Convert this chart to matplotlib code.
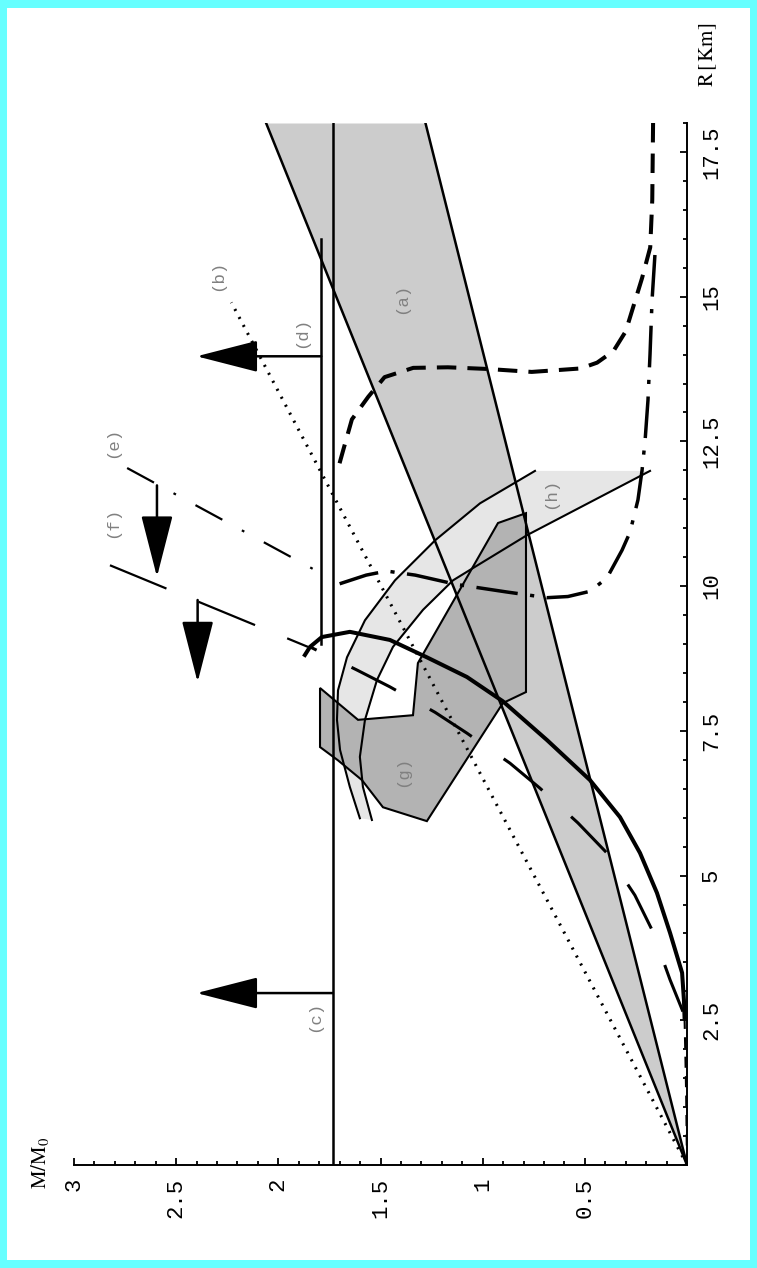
import matplotlib.pyplot as plt
from matplotlib.ticker import FixedLocator, MultipleLocator

plt.rcParams['lines.scale_dashes'] = False
plt.rcParams['mathtext.fontset'] = 'stix'

# mass-radius plane drawn on its side: M grows to the left, R grows upward
m_ticks = [0.5, 1, 1.5, 2, 2.5, 3]
m_tick_labels = ['0.5', '1', '1.5', '2', '2.5', '3']
r_ticks = [2.5, 5, 7.5, 10, 12.5, 15, 17.5]
r_tick_labels = ['2.5', '5', '7.5', '10', '12.5', '15', '17.5']

# (a) band between two straight lines from the origin
band_r = [0.0, 18.0]
band_m_upper = [0.0, 2.06]
band_m_lower = [0.0, 1.28]

# (b) dotted line
b_r = [0.0, 14.9]
b_m = [0.0, 2.23]

# (c), (d) mass limits with arrows
c_mass = 1.733
c_r = [0.0, 18.0]
c_arrow_r = 2.97
d_mass = 1.79
d_r = [9.0, 16.0]
d_arrow_r = 13.97
limit_arrow_tip = 2.40

# (e), (f) lines with arrows towards smaller R
e_m = [2.74, 1.78]
e_r = [12.04, 10.20]
e_arrow_m = 2.594
e_arrow_r = [11.74, 10.16]
f_m = [2.824, 1.855]
f_r = [10.36, 8.95]
f_arrow_m = 2.395
f_arrow_r = [9.76, 8.34]

# (h) region: outer and inner arcs
h_outer_m = [0.744, 1.013, 1.233, 1.429, 1.576, 1.664, 1.708, 1.713, 1.698, 1.650, 1.601]
h_outer_r = [11.99, 11.43, 10.79, 10.10, 9.41, 8.77, 8.20, 7.69, 7.17, 6.53, 5.99]
h_inner_m = [0.181, 0.783, 1.062, 1.145, 1.292, 1.439, 1.517, 1.576, 1.601, 1.586, 1.542]
h_inner_r = [11.99, 10.88, 10.28, 10.10, 9.59, 8.95, 8.38, 7.69, 7.05, 6.53, 5.96]

# (g) polygon
g_m = [1.796, 1.796, 1.708, 1.591, 1.488, 1.273, 0.901, 0.788, 0.788, 0.925, 1.317, 1.341, 1.610]
g_r = [8.24, 7.22, 6.99, 6.65, 6.18, 5.94, 7.98, 8.17, 11.26, 11.09, 8.67, 7.77, 7.69]

# neutron star curves
ns_dash_m = [0.166, 0.17, 0.18, 0.22, 0.30, 0.36, 0.44, 0.52, 0.76, 0.97, 1.17, 1.34, 1.48, 1.56, 1.64, 1.68, 1.71]
ns_dash_r = [18.0, 16.67, 15.85, 15.32, 14.4, 14.06, 13.86, 13.76, 13.70, 13.75, 13.78, 13.77, 13.61, 13.27, 12.88, 12.38, 12.0]
ns_dashdot_m = [0.157, 0.171, 0.181, 0.191, 0.205, 0.220, 0.240, 0.279, 0.318, 0.392, 0.475, 0.583, 0.685, 0.885, 1.13, 1.33, 1.47, 1.57, 1.70]
ns_dashdot_r = [15.72, 14.94, 14.00, 13.21, 12.52, 12.00, 11.49, 10.93, 10.62, 10.14, 9.91, 9.82, 9.80, 9.90, 10.03, 10.19, 10.26, 10.19, 10.04]

# strange star curves
ss_solid_m = [0.012, 0.015, 0.024, 0.083, 0.147, 0.230, 0.328, 0.475, 0.685, 0.901, 1.077, 1.273, 1.454, 1.650, 1.787, 1.845, 1.870]
ss_solid_r = [2.55, 2.85, 3.32, 4.01, 4.70, 5.39, 6.01, 6.65, 7.34, 8.01, 8.43, 8.77, 9.07, 9.21, 9.12, 8.95, 8.81]
ss_ldash_m = [0.020, 0.083, 0.171, 0.255, 0.392, 0.534, 0.720, 0.866, 1.077, 1.233, 1.454, 1.615, 1.845]
ss_ldash_r = [2.65, 3.20, 4.06, 4.66, 5.39, 5.91, 6.51, 6.94, 7.46, 7.82, 8.26, 8.55, 8.95]
# low-mass tails close to the R axis
tail_m = [0.0, 0.004, 0.008, 0.012]
tail_r = [0.0, 1.2, 1.9, 2.55]

labels = ['(a)', '(b)', '(c)', '(d)', '(e)', '(f)', '(g)', '(h)']
label_m = [1.395, 2.296, 1.82, 1.884, 2.81, 2.81, 1.39, 0.667]
label_r = [14.97, 15.37, 2.56, 14.39, 12.49, 11.10, 6.79, 11.60]

fig = plt.figure(figsize=(7.57, 12.68), dpi=100, facecolor='#66ffff')
panel = fig.add_axes([7 / 757, 8 / 1268, 1 - 14 / 757, 1 - 16 / 1268])
panel.set_axis_off()
panel.add_patch(plt.Rectangle((0, 0), 1, 1, transform=panel.transAxes, color='white'))

ax = fig.add_axes([74 / 757, 103 / 1268, 613 / 757, 1042 / 1268])
ax.patch.set_alpha(0)
ax.set_xlim(3, 0)
ax.set_ylim(0, 18)

ax.fill_betweenx(band_r, band_m_lower, band_m_upper, color='#cccccc', lw=0, zorder=1)
ax.fill(h_outer_m + h_inner_m[::-1], h_outer_r + h_inner_r[::-1], color='#e6e6e6', lw=0, zorder=2)
ax.fill(g_m, g_r, facecolor='#b3b3b3', edgecolor='black', lw=1.5, zorder=3)

ax.plot(band_m_upper, band_r, color='black', lw=1.8, zorder=4)
ax.plot(band_m_lower, band_r, color='black', lw=1.8, zorder=4)
ax.plot(h_outer_m, h_outer_r, color='black', lw=1.5, zorder=4)
ax.plot(h_inner_m, h_inner_r, color='black', lw=1.5, zorder=4)

ax.plot(b_m, b_r, color='black', lw=2.2, linestyle=(0, (1.5, 5)), zorder=5)
ax.plot([c_mass, c_mass], c_r, color='black', lw=1.8, zorder=5)
ax.plot([d_mass, d_mass], d_r, color='black', lw=1.8, zorder=5)

ax.plot(ns_dash_m, ns_dash_r, color='black', lw=2.9, linestyle=(0, (14, 8)), zorder=6)
ax.plot(ns_dashdot_m, ns_dashdot_r, color='black', lw=2.5, linestyle=(0, (30, 9, 3, 9)), zorder=6)
ax.plot(ss_solid_m, ss_solid_r, color='black', lw=2.9, zorder=6)
ax.plot(ss_ldash_m, ss_ldash_r, color='black', lw=2.2, linestyle=(0, (36, 28)), zorder=6)
ax.plot(tail_m, tail_r, color='black', lw=1.5, linestyle=(0, (8, 6)), zorder=6)
ax.plot(e_m, e_r, color='black', lw=1.6, linestyle=(0, (22, 16, 2, 16)), zorder=6)
ax.plot(f_m, f_r, color='black', lw=1.6, linestyle=(0, (44, 25)), zorder=6)

arrow_props = dict(arrowstyle='-|>,head_length=3.9,head_width=1.0', mutation_scale=10,
                   lw=1.8, color='black', shrinkA=0, shrinkB=0)
ax.annotate('', xy=(limit_arrow_tip, c_arrow_r), xytext=(c_mass, c_arrow_r), arrowprops=arrow_props, zorder=7)
ax.annotate('', xy=(limit_arrow_tip, d_arrow_r), xytext=(d_mass, d_arrow_r), arrowprops=arrow_props, zorder=7)
ax.annotate('', xy=(e_arrow_m, e_arrow_r[1]), xytext=(e_arrow_m, e_arrow_r[0]), arrowprops=arrow_props, zorder=7)
ax.annotate('', xy=(f_arrow_m, f_arrow_r[1]), xytext=(f_arrow_m, f_arrow_r[0]), arrowprops=arrow_props, zorder=7)

for text, m, r in zip(labels, label_m, label_r):
    ax.text(m, r, text, rotation=90, ha='center', va='center', color='#808080',
            family='Liberation Mono', fontsize=12.5, zorder=8)

for side in ['left', 'top']:
    ax.spines[side].set_visible(False)
for side in ['right', 'bottom']:
    ax.spines[side].set_linewidth(1.4)
    ax.spines[side].set_zorder(9)

ax.xaxis.set_major_locator(FixedLocator(m_ticks))
ax.xaxis.set_minor_locator(MultipleLocator(0.1))
ax.yaxis.set_major_locator(FixedLocator(r_ticks))
ax.yaxis.set_minor_locator(MultipleLocator(0.5))
ax.set_xticklabels(m_tick_labels)
ax.set_yticklabels(r_tick_labels)
ax.tick_params(which='both', direction='in', width=1.3, top=False, left=False, right=True, bottom=True)
ax.tick_params(which='major', length=5)
ax.tick_params(which='minor', length=3)
ax.tick_params(axis='y', labelleft=False, labelright=True, labelrotation=90, pad=10)
ax.tick_params(axis='x', labelrotation=90, pad=9)
for lab in ax.get_xticklabels() + ax.get_yticklabels():
    lab.set_family('Liberation Mono')
    lab.set_fontsize(16)
for lab in ax.get_yticklabels():
    lab.set_va('center')

fig.text(40 / 757, 1 - 1163 / 1268, r'$\mathrm{M/M_0}$', rotation=90, ha='center', va='center', fontsize=15)
fig.text(708 / 757, 1 - 55 / 1268, r'$\mathrm{R\,[\,Km]}$', rotation=90, ha='center', va='center', fontsize=15)

fig.savefig('out.png', dpi=100, facecolor=fig.get_facecolor())
